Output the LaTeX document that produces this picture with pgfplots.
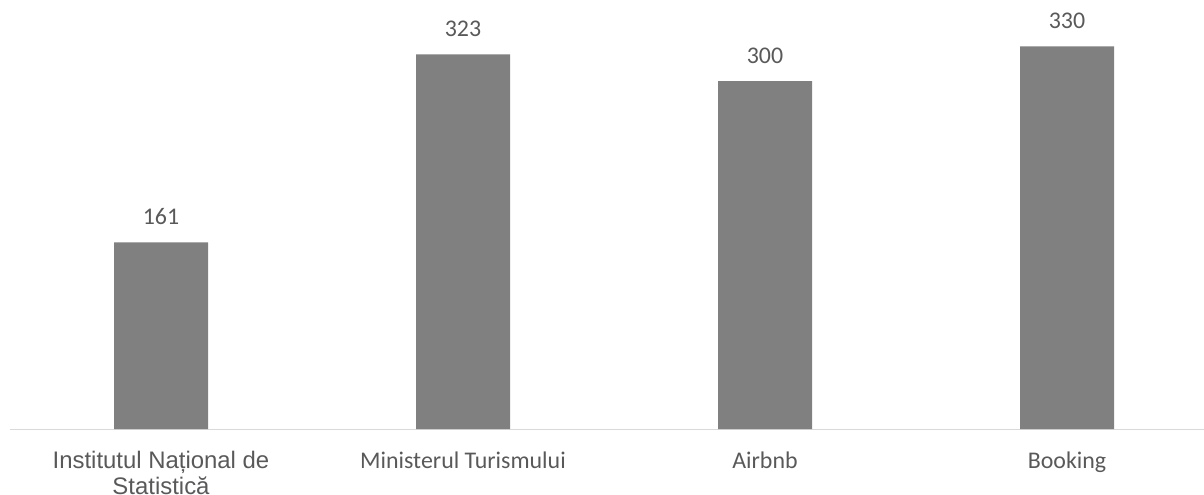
\documentclass[border=0pt]{standalone}
\usepackage{fontspec}
\setmainfont{Carlito}
\newfontfamily\arialf{Liberation Sans}
\usepackage{pgfplots}
\pgfplotsset{compat=1.18}
\definecolor{bargray}{HTML}{808080}
\definecolor{txtgray}{HTML}{595959}
\definecolor{axgray}{HTML}{D9D9D9}
\begin{document}
\begin{tikzpicture}
\begin{axis}[
  at={(10bp,66bp)}, anchor=south west,
  scale only axis, width=1194bp, height=429bp,
  xmin=-0.5, xmax=3.4536, ymin=0, ymax=370,
  axis x line=bottom, axis y line=none,
  axis line style={draw=axgray, line width=1bp, -},
  xtick={0,1,2,3},
  xticklabels={{{\arialf Institutul Național de}\\{\arialf Statistică}}, Ministerul Turismului, Airbnb, Booking},
  major tick length=0pt,
  ytick=\empty,
  ybar, bar width=94bp,
  /pgf/number format/assume math mode=true,
  nodes near coords,
  nodes near coords style={font=\fontsize{24}{28}\selectfont, text=txtgray, anchor=south, inner sep=0pt, yshift=17.5bp},
  xticklabel style={font=\fontsize{24}{25.5}\selectfont, text=txtgray, align=center, yshift=-19bp},
  clip=false,
]
\addplot[fill=bargray, draw=none] coordinates {(0,161) (1,323) (2,300) (3,330)};
\end{axis}
\pgfresetboundingbox
\path[use as bounding box] (0,0) rectangle (1204bp,495bp);
\end{tikzpicture}
\end{document}
